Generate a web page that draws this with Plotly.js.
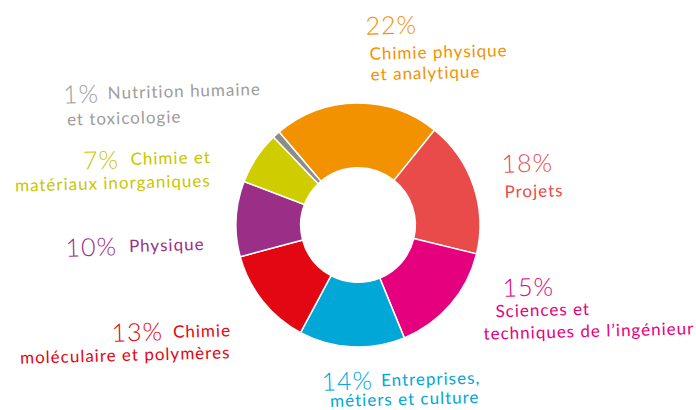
<!DOCTYPE html>
<html>
<head>
<meta charset="utf-8">
<script src="https://cdn.plot.ly/plotly-3.0.1.min.js"></script>
<style>
  html, body { margin: 0; padding: 0; background: #fff; }
  #chart { width: 696px; height: 410px; }
  #chart .annotation-text { letter-spacing: 1px; }
</style>
</head>
<body>
<div id="chart"></div>
<script>
// parts of the programme, clockwise from the top
const categories = [
  "Chimie physique et analytique",
  "Projets",
  "Sciences et techniques de l\u2019ingénieur",
  "Entreprises, métiers et culture",
  "Chimie moléculaire et polymères",
  "Physique",
  "Chimie et matériaux inorganiques",
  "Nutrition humaine et toxicologie"
];
const values = [22, 18, 15, 14, 13, 10, 7, 1];
// how each label is broken over lines
const labelLines = [
  ["Chimie physique", "et analytique"],
  ["Projets"],
  ["Sciences et", "techniques de l\u2019ingénieur"],
  ["Entreprises,", "métiers et culture"],
  ["Chimie", "moléculaire et polymères"],
  ["Physique"],
  ["Chimie et", "matériaux inorganiques"],
  ["Nutrition humaine", "et toxicologie"]
];

const sliceColors = ["#f39200", "#e94b4a", "#e5007e", "#00a7d7", "#e30613", "#9b2f87", "#cfcc00", "#8c8c8c"];
const textColors  = ["#f39200", "#e94b4a", "#e5007e", "#00a7d7", "#e30613", "#9b2f87", "#c9c600", "#9d9d9c"];

const W = 696, H = 410;
const px = x => x / W;
const py = y => 1 - y / H;
const LS = 1; // css letter-spacing, plotly measures without it

// label placement in pixels: percent [x, y], name lines [x, y], anchor
const place = [
  {anchor: "left",  pct: [365, 24],  lines: [[367, 51], [368, 73]]},
  {anchor: "left",  pct: [501, 162], lines: [[502, 190]]},
  {anchor: "left",  pct: [502, 286], lines: [[493, 309], [481, 330]]},
  {anchor: "right", pct: [374, 380], lines: [[482, 378], [482, 398]]},
  {anchor: "right", pct: [164, 331], lines: [[233, 330], [232, 354]]},
  {anchor: "right", pct: [118, 246], lines: [[206, 244]]},
  {anchor: "right", pct: [120, 159], lines: [[213, 157], [213, 183]]},
  {anchor: "left",  pct: [62, 93],   lines: [[105, 91], [65, 117]]}
];

function fixX(x, anchor, txt) {
  const shift = LS * txt.length / 2;
  return anchor === "left" ? x + shift : x - shift;
}

const annotations = [];
values.forEach((v, i) => {
  const p = place[i];
  annotations.push({
    xref: "paper", yref: "paper",
    x: px(p.pct[0]), y: py(p.pct[1]),
    xanchor: p.anchor, yanchor: "middle",
    text: v + "%", showarrow: false, textangle: -1.5,
    font: {family: "Lato, sans-serif", size: 25, weight: 300, color: textColors[i]}
  });
  labelLines[i].forEach((line, j) => {
    annotations.push({
      xref: "paper", yref: "paper",
      x: px(fixX(p.lines[j][0], p.anchor, line)), y: py(p.lines[j][1]),
      xanchor: p.anchor, yanchor: "middle",
      text: line, showarrow: false, textangle: -1.5,
      font: {family: "Lato, sans-serif", size: 17, color: textColors[i]}
    });
  });
});

const cx = 358, cy = 225, r = 122;

const trace = {
  type: "pie",
  labels: categories,
  values: values,
  sort: false,
  direction: "clockwise",
  rotation: -40.3,
  hole: 0.47,
  textinfo: "none",
  hoverinfo: "label+percent",
  marker: {colors: sliceColors, line: {color: "#ffffff", width: 1.5}},
  domain: {x: [px(cx - r), px(cx + r)], y: [py(cy + r), py(cy - r)]}
};

const layout = {
  width: W, height: H,
  margin: {l: 0, r: 0, t: 0, b: 0},
  showlegend: false,
  paper_bgcolor: "#ffffff",
  annotations: annotations
};

Plotly.newPlot("chart", [trace], layout, {displayModeBar: false, staticPlot: true});
</script>
</body>
</html>
